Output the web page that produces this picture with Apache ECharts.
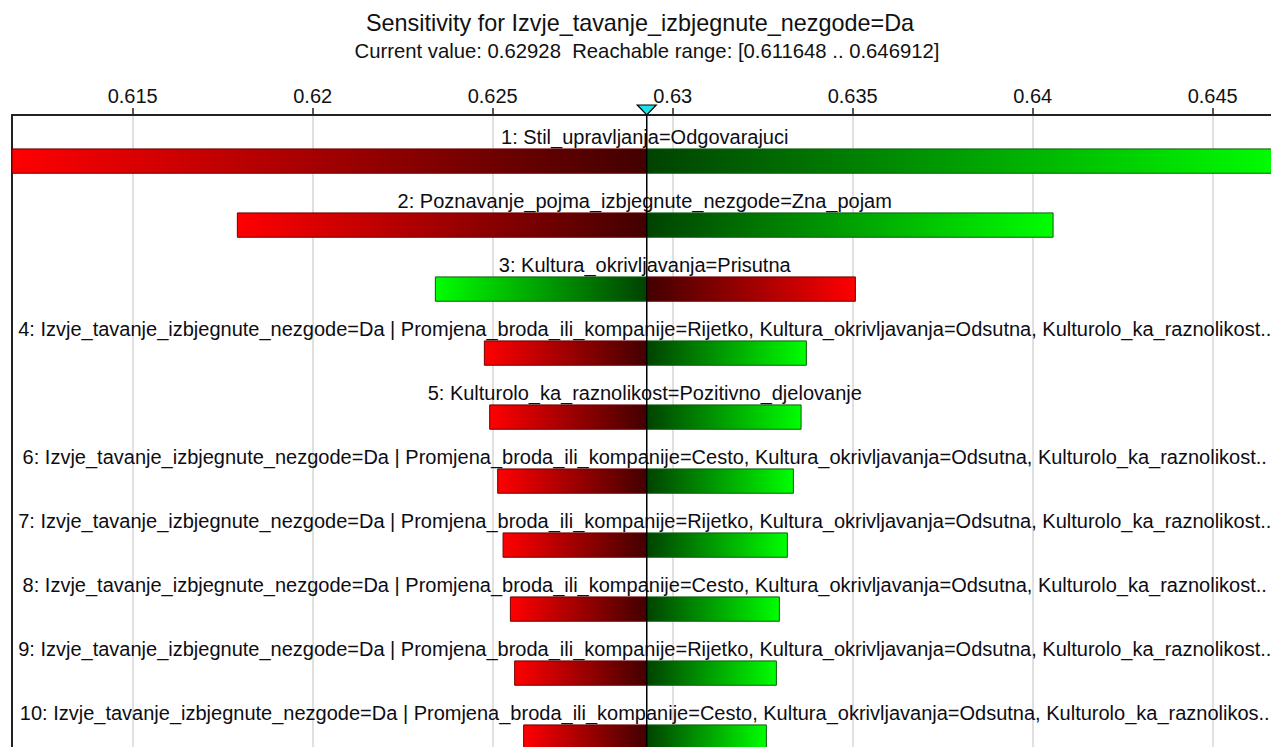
<!DOCTYPE html>
<html>
<head>
<meta charset="utf-8">
<title>Sensitivity</title>
<script src="https://cdn.jsdelivr.net/npm/echarts@6/dist/echarts.min.js"></script>
<style>
  html, body { margin: 0; padding: 0; background: #ffffff; overflow: hidden; }
  /* the plot runs past the right and bottom edges of the window */
  #chart { width: 1290px; height: 760px; }
</style>
</head>
<body>
<div id="chart"></div>
<script>
// Target node and the sensitivity of its probability to each factor
const targetName = 'Izvje_tavanje_izbjegnute_nezgode=Da';
const currentValue = 0.62928;
const rangeMin = 0.611648;
const rangeMax = 0.646912;

// Axis ticks
const tickValues = [0.615, 0.62, 0.625, 0.63, 0.635, 0.64, 0.645];
const tickLabels = ['0.615', '0.62', '0.625', '0.63', '0.635', '0.64', '0.645'];

// Factors, ordered by influence
const factorLabels = [
  '1: Stil_upravljanja=Odgovarajuci',
  '2: Poznavanje_pojma_izbjegnute_nezgode=Zna_pojam',
  '3: Kultura_okrivljavanja=Prisutna',
  '4: Izvje_tavanje_izbjegnute_nezgode=Da | Promjena_broda_ili_kompanije=Rijetko, Kultura_okrivljavanja=Odsutna, Kulturolo_ka_raznolikost..',
  '5: Kulturolo_ka_raznolikost=Pozitivno_djelovanje',
  '6: Izvje_tavanje_izbjegnute_nezgode=Da | Promjena_broda_ili_kompanije=Cesto, Kultura_okrivljavanja=Odsutna, Kulturolo_ka_raznolikost..',
  '7: Izvje_tavanje_izbjegnute_nezgode=Da | Promjena_broda_ili_kompanije=Rijetko, Kultura_okrivljavanja=Odsutna, Kulturolo_ka_raznolikost..',
  '8: Izvje_tavanje_izbjegnute_nezgode=Da | Promjena_broda_ili_kompanije=Cesto, Kultura_okrivljavanja=Odsutna, Kulturolo_ka_raznolikost..',
  '9: Izvje_tavanje_izbjegnute_nezgode=Da | Promjena_broda_ili_kompanije=Rijetko, Kultura_okrivljavanja=Odsutna, Kulturolo_ka_raznolikost..',
  '10: Izvje_tavanje_izbjegnute_nezgode=Da | Promjena_broda_ili_kompanije=Cesto, Kultura_okrivljavanja=Odsutna, Kulturolo_ka_raznolikos..'
];

// Value reached at the "red" end and at the "green" end of each factor's range
const redEnds   = [0.611648, 0.617908, 0.635075, 0.624769, 0.624917, 0.625139, 0.625289, 0.625492, 0.625611, 0.625861];
const greenEnds = [0.646912, 0.640567, 0.623408, 0.633714, 0.633567, 0.633353, 0.633186, 0.632964, 0.632881, 0.632603];

const FONT = '"Liberation Sans", Arial, sans-serif';

const barData = factorLabels.map((_, i) => [redEnds[i], greenEnds[i], i]);

function gradientRect(xEnd, xMid, top, h, bright, dark, stroke) {
  const x0 = Math.min(xEnd, xMid);
  const x1 = Math.max(xEnd, xMid);
  return {
    type: 'rect',
    shape: { x: x0, y: top, width: x1 - x0, height: h },
    style: {
      fill: new echarts.graphic.LinearGradient(xEnd, 0, xMid, 0, [
        { offset: 0, color: bright },
        { offset: 1, color: dark }
      ], true),
      stroke: stroke,
      lineWidth: 1
    }
  };
}

function renderFactor(params, api) {
  const i = api.value(2);
  const mid = api.coord([currentValue, i]);
  const pRed = api.coord([api.value(0), i]);
  const pGreen = api.coord([api.value(1), i]);
  const band = api.size([0, 1])[1];
  const top = mid[1] + band * 0.03;
  const h = band * 0.38;
  return {
    type: 'group',
    children: [
      gradientRect(pRed[0], mid[0], top, h, '#ff0000', '#420000', '#6e0000'),
      gradientRect(pGreen[0], mid[0], top, h, '#00ff00', '#004200', '#0d5c0d'),
      {
        type: 'text',
        style: {
          text: factorLabels[i],
          x: mid[0] - 2,
          y: mid[1] - band * 0.157,
          align: 'center',
          verticalAlign: 'middle',
          fontSize: 20,
          fontFamily: FONT,
          fill: '#0d0d14'
        }
      }
    ]
  };
}

function renderCurrent(params, api) {
  const p = api.coord([api.value(0), 0]);
  const cs = params.coordSys;
  const x = p[0];
  return {
    type: 'group',
    children: [
      {
        type: 'line',
        shape: { x1: x, y1: cs.y - 6, x2: x, y2: cs.y + cs.height },
        style: { stroke: '#000000', lineWidth: 1.5 }
      },
      {
        type: 'polygon',
        shape: { points: [[x - 9.5, cs.y - 10], [x + 9.5, cs.y - 10], [x, cs.y]] },
        style: { fill: '#17e3ea', stroke: '#000000', lineWidth: 1.2 }
      }
    ]
  };
}

const chart = echarts.init(document.getElementById('chart'), null, { renderer: 'svg' });

chart.setOption({
  animation: false,
  backgroundColor: '#ffffff',
  title: [
    {
      text: 'Sensitivity for ' + targetName,
      left: 640,
      textAlign: 'center',
      top: 11,
      padding: 0,
      textStyle: { fontFamily: FONT, fontSize: 23.4, fontWeight: 'normal', color: '#111111' }
    },
    {
      text: 'Current value: ' + currentValue + ' \u00a0Reachable range: [' + rangeMin + ' .. ' + rangeMax + ']',
      left: 647,
      textAlign: 'center',
      top: 41,
      padding: 0,
      textStyle: { fontFamily: FONT, fontSize: 20.3, fontWeight: 'normal', color: '#111111' }
    }
  ],
  grid: { left: 12, top: 115, width: 1269.5, height: 640, containLabel: false },
  xAxis: {
    type: 'value',
    position: 'top',
    min: rangeMin,
    max: rangeMax,
    axisLine: { show: true, lineStyle: { color: '#222222', width: 2 } },
    axisTick: { show: true, customValues: tickValues, length: 7, lineStyle: { color: '#222222', width: 1.5 } },
    axisLabel: {
      customValues: tickValues,
      formatter: v => tickLabels[tickValues.findIndex(t => Math.abs(t - v) < 1e-9)],
      fontFamily: FONT,
      fontSize: 20,
      color: '#111111',
      margin: 9
    },
    splitLine: { show: true, lineStyle: { color: '#d6d6d6', width: 1.5 } }
  },
  yAxis: {
    type: 'category',
    inverse: true,
    data: factorLabels.map((_, i) => i),
    axisLine: { show: true, lineStyle: { color: '#222222', width: 2 } },
    axisTick: { show: false },
    axisLabel: { show: false },
    splitLine: { show: false }
  },
  series: [
    {
      type: 'custom',
      renderItem: renderFactor,
      data: barData,
      encode: { x: [0, 1], y: 2 },
      clip: false,
      z: 2
    },
    {
      type: 'custom',
      renderItem: renderCurrent,
      data: [[currentValue, 0]],
      encode: { x: 0, y: 1 },
      clip: false,
      z: 3
    }
  ]
});
</script>
</body>
</html>
